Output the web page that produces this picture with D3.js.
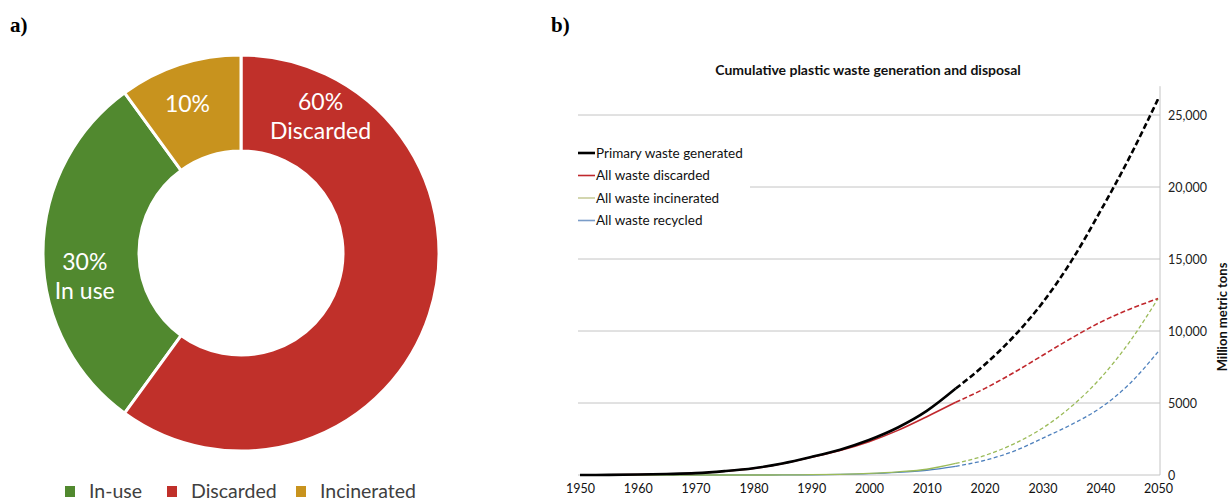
<!DOCTYPE html>
<html>
<head>
<meta charset="utf-8">
<script src="https://cdn.jsdelivr.net/npm/d3@7"></script>
<style>
  body { margin: 0; background: #fff; }
  svg { display: block; }
</style>
</head>
<body>
<svg id="chart" width="1230" height="503"></svg>
<script>
// ---- data: panel a) share of all plastic ever made
const shareNames = ['In-use', 'Discarded', 'Incinerated']
const shareValues = [30, 60, 10]
const shareLabels = [['30%', 'In use'], ['60%', 'Discarded'], ['10%']]
const sliceOrder = ['Discarded', 'In-use', 'Incinerated']

// ---- data: panel b) cumulative waste, million metric tons
const histYears = [1950, 1955, 1960, 1965, 1970, 1975, 1980, 1985, 1990, 1995, 2000, 2005, 2010, 2015]
const projYears = [2015, 2020, 2025, 2030, 2035, 2040, 2045, 2050]
const seriesNames = ['Primary waste generated', 'All waste discarded', 'All waste incinerated', 'All waste recycled']
const generatedHist = [0, 10, 30, 70, 130, 270, 470, 800, 1250, 1760, 2430, 3300, 4450, 6000]
const discardedHist = [0, 10, 30, 70, 125, 260, 460, 790, 1230, 1700, 2310, 3100, 4050, 5050]
const incineratedHist = [0, 0, 0, 0, 0, 0, 0, 5, 20, 50, 110, 220, 400, 800]
const recycledHist = [0, 0, 0, 0, 0, 0, 0, 5, 15, 40, 90, 180, 330, 600]
const generatedProj = [6000, 7650, 9600, 11950, 14850, 18300, 22000, 26100]
const discardedProj = [5050, 6000, 7100, 8300, 9500, 10600, 11500, 12250]
const incineratedProj = [800, 1350, 2150, 3250, 4750, 6700, 9200, 12250]
const recycledProj = [600, 1015, 1645, 2545, 3500, 4650, 6300, 8550]
const yTicks = [0, 5000, 10000, 15000, 20000, 25000]
const xTicks = d3.range(1950, 2051, 10)

const svg = d3.select('#chart')
const font = 'Lato, "Open Sans", sans-serif'

// panel letters
svg.append('text').attr('x', 10).attr('y', 32).text('a)')
  .style('font', 'bold 21px "Liberation Serif", "DejaVu Serif", serif')
svg.append('text').attr('x', 551).attr('y', 32).text('b)')
  .style('font', 'bold 21px "Liberation Serif", "DejaVu Serif", serif')

// ================= a) doughnut =================
const pieColor = d3.scaleOrdinal(shareNames, ['#51892f', '#c0302a', '#c8931e'])
const labelFrac = { 'In-use': 0.42, 'Discarded': 0.14, 'Incinerated': 0.45 }

const shares = shareNames.map((n, i) => ({ name: n, value: shareValues[i], label: shareLabels[i] }))
const pie = d3.pie().value(d => d.value)
  .sort((a, b) => sliceOrder.indexOf(a.name) - sliceOrder.indexOf(b.name))
const arc = d3.arc().innerRadius(102).outerRadius(198)

const donut = svg.append('g').attr('transform', 'translate(241,253)')
donut.selectAll('path')
  .data(pie(shares))
  .enter().append('path')
  .attr('d', arc)
  .attr('fill', d => pieColor(d.data.name))
  .attr('stroke', '#fff')
  .attr('stroke-width', 3)

donut.selectAll('text.lbl')
  .data(pie(shares))
  .enter().append('text')
  .attr('class', 'lbl')
  .attr('transform', d => {
    const a = d.startAngle + (d.endAngle - d.startAngle) * labelFrac[d.data.name]
    const r = 158
    return `translate(${r * Math.sin(a)},${-r * Math.cos(a)})`
  })
  .attr('text-anchor', 'middle')
  .style('font', `23px ${font}`)
  .attr('fill', '#fff')
  .each(function (d) {
    const t = d3.select(this)
    const n = d.data.label.length
    d.data.label.forEach((s, i) => {
      t.append('tspan').attr('x', 0)
        .attr('y', (i - (n - 1) / 2) * 29)
        .attr('dy', '0.35em')
        .text(s)
    })
  })

// legend under doughnut
const pieLegendX = [65, 167, 296]
const pieLegend = svg.append('g')
shareNames.forEach((n, i) => {
  const g = pieLegend.append('g').attr('transform', `translate(${pieLegendX[i]},486)`)
  g.append('rect').attr('width', 10).attr('height', 11).attr('fill', pieColor(n))
  g.append('text').attr('x', 24).attr('y', 5).attr('dy', '0.35em')
    .style('font', `19.5px ${font}`).attr('fill', '#404040').text(n)
})

// ================= b) line chart =================
const x = d3.scaleLinear().domain([1950, 2050]).range([580, 1158])
const y = d3.scaleLinear().domain([0, 25000]).range([475, 115])

svg.append('text').attr('x', 868).attr('y', 75)
  .attr('text-anchor', 'middle')
  .style('font', `bold 14px ${font}`).attr('fill', '#111')
  .text('Cumulative plastic waste generation and disposal')

// gridlines
svg.append('g').selectAll('line')
  .data(yTicks)
  .enter().append('line')
  .attr('x1', 578).attr('x2', 1160)
  .attr('y1', d => y(d)).attr('y2', d => y(d))
  .attr('stroke', '#c4c4c4').attr('stroke-width', 1)

// right axis line
svg.append('line')
  .attr('x1', 1160).attr('x2', 1160)
  .attr('y1', y(27000)).attr('y2', y(0))
  .attr('stroke', '#c4c4c4').attr('stroke-width', 1)

const yAxis = svg.append('g').attr('transform', 'translate(1160,0)')
  .call(d3.axisRight(y).tickValues(yTicks).tickSize(0).tickPadding(8)
    .tickFormat(d => d >= 10000 ? d3.format(',')(d) : d))
yAxis.select('.domain').remove()
yAxis.selectAll('text').style('font', `12.5px ${font}`).attr('fill', '#222')

const xAxis = svg.append('g').attr('transform', `translate(0,${y(0)})`)
  .call(d3.axisBottom(x).tickValues(xTicks).tickSize(0).tickPadding(9).tickFormat(d3.format('d')))
xAxis.select('.domain').remove()
xAxis.selectAll('text').style('font', `12.5px ${font}`).attr('fill', '#111')

svg.append('text')
  .attr('transform', 'translate(1222,317) rotate(-90)')
  .attr('text-anchor', 'middle')
  .attr('dy', '0.35em')
  .style('font', `bold 13px ${font}`).attr('fill', '#111')
  .text('Million metric tons')

const line = d3.line()
  .x(d => x(d[0]))
  .y(d => y(d[1]))
  .curve(d3.curveMonotoneX)

const lineSeries = [
  { name: seriesNames[3], hist: recycledHist, proj: recycledProj, color: '#4f81bd', w: 1.3, dash: '4,2.5', legend: '#7a9cc8' },
  { name: seriesNames[2], hist: incineratedHist, proj: incineratedProj, color: '#9bbb59', w: 1.3, dash: '4,2.5', legend: '#c8cc9c' },
  { name: seriesNames[1], hist: discardedHist, proj: discardedProj, color: '#c0282d', w: 1.6, dash: '5,2.5', legend: '#c0282d' },
  { name: seriesNames[0], hist: generatedHist, proj: generatedProj, color: '#000', w: 2.6, dash: '6,3', legend: '#000' }
]

const lines = svg.append('g')
lineSeries.forEach(s => {
  lines.append('path')
    .datum(histYears.map((yr, i) => [yr, s.hist[i]]))
    .attr('d', line).attr('fill', 'none')
    .attr('stroke', s.color).attr('stroke-width', s.w)
  lines.append('path')
    .datum(projYears.map((yr, i) => [yr, s.proj[i]]))
    .attr('d', line).attr('fill', 'none')
    .attr('stroke', s.color).attr('stroke-width', s.w)
    .attr('stroke-dasharray', s.dash)
})

// legend box over gridlines
const leg = svg.append('g')
leg.append('rect').attr('x', 570).attr('y', 138).attr('width', 180).attr('height', 96).attr('fill', '#fff')
seriesNames.forEach((n, i) => {
  const s = lineSeries.find(d => d.name === n)
  const ly = 153 + i * 22.5
  leg.append('line').attr('x1', 578).attr('x2', 595).attr('y1', ly).attr('y2', ly)
    .attr('stroke', s.legend).attr('stroke-width', i === 0 ? 2.6 : 1.6)
  leg.append('text').attr('x', 596).attr('y', ly).attr('dy', '0.35em')
    .style('font', `13.5px ${font}`).attr('fill', '#111').text(n)
})
</script>
</body>
</html>
